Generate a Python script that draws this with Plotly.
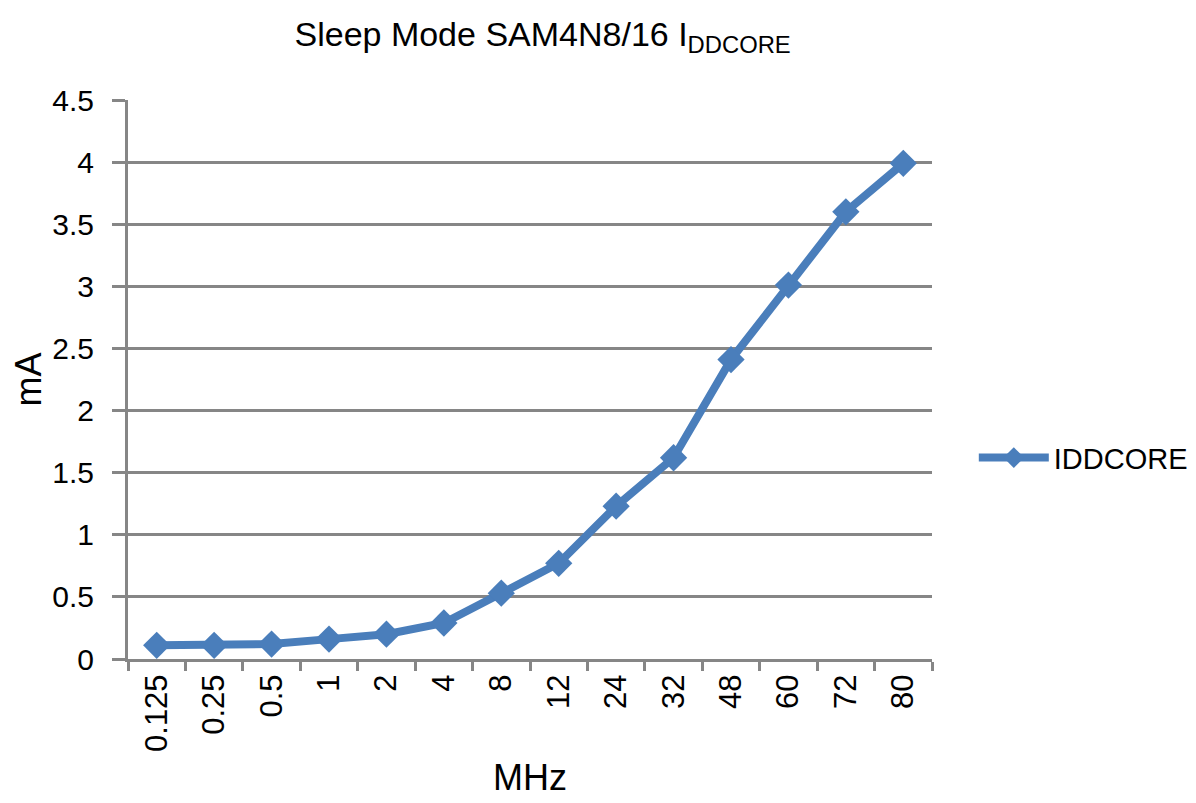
import plotly.graph_objects as go

# frequencies (MHz) and sleep-mode core current (mA)
freq_labels = ["0.125", "0.25", "0.5", "1", "2", "4", "8", "12",
               "24", "32", "48", "60", "72", "80"]
iddcore_ma = [0.11, 0.11, 0.12, 0.16, 0.20, 0.29, 0.53, 0.77,
              1.23, 1.62, 2.41, 3.01, 3.60, 3.99]
y_ticks = [0, 0.5, 1, 1.5, 2, 2.5, 3, 3.5, 4, 4.5]
y_tick_text = ["0", "0.5", "1", "1.5", "2", "2.5", "3", "3.5", "4", "4.5"]

axis_gray = "#868686"
font_family = "Liberation Sans, Arial, sans-serif"

fig = go.Figure()
fig.add_trace(
    go.Scatter(
        x=freq_labels,
        y=iddcore_ma,
        mode="lines+markers",
        name="IDDCORE",
        line=dict(color="#4a7ebb", width=8),
        marker=dict(symbol="diamond", size=21, color="#4a7ebb"),
    )
)

fig.update_layout(
    width=1196,
    height=803,
    paper_bgcolor="white",
    plot_bgcolor="white",
    showlegend=True,
    font=dict(family=font_family, size=30, color="black"),
    title=dict(
        text="Sleep Mode SAM4N8/16 I<sub>DDCORE</sub>",
        x=0.447, xanchor="center", y=0.968, yanchor="middle",
        font=dict(size=34),
    ),
    margin=dict(l=120, r=272, t=92, b=152, autoexpand=False),
    legend=dict(x=1.052, y=0.36, xanchor="left", yanchor="middle",
                itemwidth=70, font=dict(size=29)),
    xaxis=dict(
        type="category",
        range=[-0.5, 13.5],
        automargin=False,
        title=dict(text="MHz", standoff=14),
        tickangle=-90,
        tickson="boundaries",
        tickfont=dict(size=31),
        ticks="outside", ticklen=9, tickwidth=3, tickcolor=axis_gray,
        showline=True, linecolor=axis_gray, linewidth=3,
        showgrid=False,
    ),
    yaxis=dict(
        automargin=False,
        title=dict(text="mA", standoff=18),
        range=[0, 4.5],
        tickvals=y_ticks,
        ticktext=y_tick_text,
        ticklabelstandoff=12,
        ticks="outside", ticklen=13, tickwidth=3, tickcolor=axis_gray,
        showline=True, linecolor=axis_gray, linewidth=3,
        showgrid=True, gridcolor=axis_gray, gridwidth=3,
        zeroline=False,
    ),
)

fig.write_html("out.html")
